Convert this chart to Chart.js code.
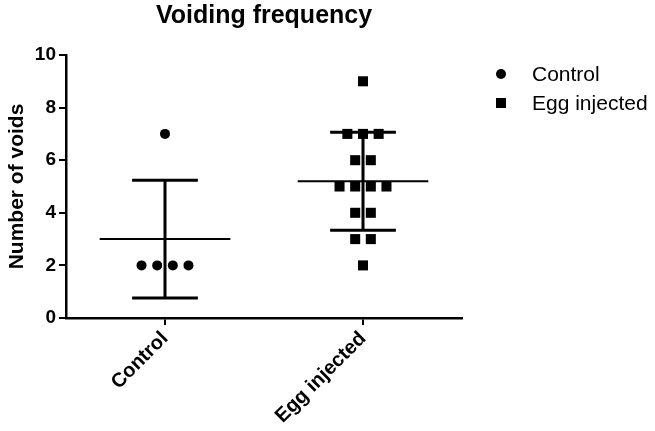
<!DOCTYPE html>
<html>
<head>
<meta charset="utf-8">
<title>Voiding frequency</title>
<script src="https://cdn.jsdelivr.net/npm/chart.js@4.4.1/dist/chart.umd.min.js"></script>
<style>
    html, body { margin: 0; padding: 0; background: #fff; }
    #wrap { position: relative; width: 655px; height: 431px; }
    #legend { position: absolute; left: 0; top: 0; font-family: Arial, "Liberation Sans", sans-serif; font-size: 21px; color: #000; }
    .item { position: absolute; left: 496px; height: 24px; line-height: 24px; white-space: nowrap; }
    .mark { position: absolute; left: 0; top: 7px; width: 10px; height: 10px; background: #000; }
    .mark.circle { border-radius: 50%; }
    .label { position: absolute; left: 36px; top: 0; }
</style>
</head>
<body>
<div id="wrap">
    <canvas id="chart" width="655" height="431"></canvas>
    <div id="legend"></div>
</div>
<script>
const categories = ["Control", "Egg injected"];
const controlVoids = [7, 2, 2, 2, 2];
const eggInjectedVoids = [9, 7, 7, 7, 6, 6, 5, 5, 5, 5, 4, 4, 3, 3, 2];
const pointShapes = ["circle", "rect"];
const yMin = 0;
const yMax = 10;
const yStep = 2;

const FONT = "Arial, 'Liberation Sans', sans-serif";
const SPREAD = 0.079; // horizontal gap between points of equal value, in category units

// place points with the same value side by side, like a column scatter
function spread(values, index) {
    const groups = {};
    values.forEach((v) => { groups[v] = (groups[v] || 0) + 1; });
    const seen = {};
    return values.map((v) => {
        const n = groups[v];
        const i = seen[v] || 0;
        seen[v] = i + 1;
        return { x: index + 0.5 + (i - (n - 1) / 2) * SPREAD, y: v };
    });
}

function stats(values) {
    const mean = values.reduce((a, b) => a + b, 0) / values.length;
    const sq = values.reduce((a, b) => a + (b - mean) * (b - mean), 0);
    return { mean, sd: Math.sqrt(sq / (values.length - 1)) };
}

const groups = [controlVoids, eggInjectedVoids];

// mean line plus SD whiskers for every group
const meanSdPlugin = {
    id: "meanSd",
    afterDatasetsDraw(chart) {
        const { ctx, scales } = chart;
        const xs = scales.x;
        const ys = scales.y;
        ctx.save();
        ctx.strokeStyle = "#000";
        ctx.lineCap = "butt";
        groups.forEach((values, i) => {
            const { mean, sd } = stats(values);
            const cx = xs.getPixelForValue(i + 0.5);
            const half = xs.getPixelForValue(i + 0.5 + 0.33) - cx;
            const cap = xs.getPixelForValue(i + 0.5 + 0.166) - cx;
            const yMean = ys.getPixelForValue(mean);
            const yHi = ys.getPixelForValue(mean + sd);
            const yLo = ys.getPixelForValue(mean - sd);

            ctx.lineWidth = 2;
            ctx.beginPath();
            ctx.moveTo(cx - half, yMean);
            ctx.lineTo(cx + half, yMean);
            ctx.stroke();

            ctx.lineWidth = 3;
            ctx.beginPath();
            ctx.moveTo(cx, yHi);
            ctx.lineTo(cx, yLo);
            ctx.moveTo(cx - cap, yHi);
            ctx.lineTo(cx + cap, yHi);
            ctx.moveTo(cx - cap, yLo);
            ctx.lineTo(cx + cap, yLo);
            ctx.stroke();
        });
        ctx.restore();
    },
};

const datasets = groups.map((values, i) => ({
    label: categories[i],
    data: spread(values, i),
    pointStyle: pointShapes[i],
    pointRadius: pointShapes[i] === "rect" ? 7.1 : 5,
    pointHoverRadius: pointShapes[i] === "rect" ? 7.1 : 5,
    backgroundColor: "#000",
    borderColor: "#000",
    borderWidth: 0,
    showLine: false,
}));

new Chart(document.getElementById("chart"), {
    type: "scatter",
    data: { datasets },
    plugins: [meanSdPlugin],
    options: {
        responsive: false,
        animation: false,
        events: [],
        layout: { padding: { left: 0, right: 193, top: 0, bottom: 0 } },
        plugins: {
            legend: { display: false },
            tooltip: { enabled: false },
            title: {
                display: true,
                text: "Voiding frequency",
                fullSize: false,
                color: "#000",
                font: { family: FONT, size: 25, weight: "bold", lineHeight: 1.2 },
                padding: { top: 1, bottom: 24 },
            },
        },
        scales: {
            x: {
                type: "linear",
                min: 0,
                max: categories.length,
                afterBuildTicks: (scale) => {
                    scale.ticks = categories.map((c, i) => ({ value: i + 0.5 }));
                },
                afterFit: (scale) => { scale.height = 113; },
                grid: { drawOnChartArea: false, drawTicks: true, tickLength: 7, color: "#000", lineWidth: 2 },
                border: { display: true, color: "#000", width: 2.5 },
                ticks: {
                    color: "#000",
                    font: { family: FONT, size: 20, weight: "bold" },
                    minRotation: 45,
                    maxRotation: 45,
                    padding: 2,
                    callback: (v) => categories[Math.round(v - 0.5)],
                },
            },
            y: {
                min: yMin,
                max: yMax,
                afterFit: (scale) => { scale.width = 66; },
                grid: { drawOnChartArea: false, drawTicks: true, tickLength: 7, color: "#000", lineWidth: 2 },
                border: { display: true, color: "#000", width: 2.5 },
                ticks: {
                    stepSize: yStep,
                    color: "#000",
                    padding: 3,
                    font: { family: FONT, size: 19, weight: "bold" },
                },
                title: {
                    display: true,
                    text: "Number of voids",
                    color: "#000",
                    font: { family: FONT, size: 21, weight: "bold", lineHeight: 1.2 },
                    padding: { top: 5, bottom: 0 },
                },
            },
        },
    },
});

// legend as plain html to the right of the plot
const legend = document.getElementById("legend");
const legendTops = [62, 91];
categories.forEach((name, i) => {
    const item = document.createElement("div");
    item.className = "item";
    item.style.top = legendTops[i] + "px";
    const mark = document.createElement("span");
    mark.className = "mark" + (pointShapes[i] === "circle" ? " circle" : "");
    const label = document.createElement("span");
    label.className = "label";
    label.textContent = name;
    item.appendChild(mark);
    item.appendChild(label);
    legend.appendChild(item);
});
</script>
</body>
</html>
